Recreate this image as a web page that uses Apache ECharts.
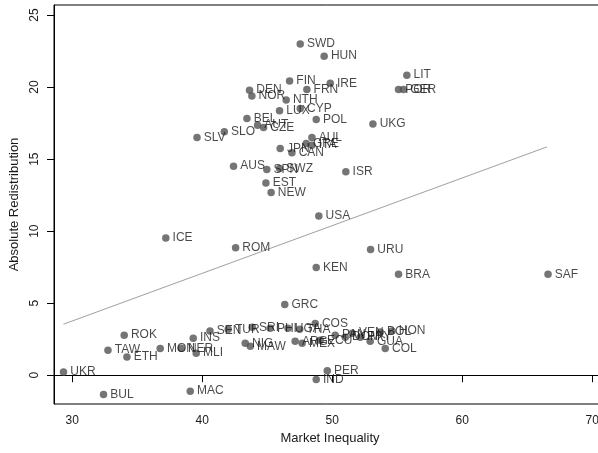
<!DOCTYPE html>
<html>
<head>
<meta charset="utf-8">
<script src="https://cdn.jsdelivr.net/npm/echarts@6/dist/echarts.min.js"></script>
<style>html,body{margin:0;padding:0;background:#fff;}#c{width:598px;height:453px;}</style>
</head>
<body>
<div id="c"></div>
<script>
// Country codes
const countries = ["SWD","HUN","FIN","FRN","IRE","LIT","POR","GER","DEN","NOR","NTH","LUX","CYP","POL","BEL","AUT","CZE","SLV","SLO","UKG","AUL","GRE","ITA","JPN","CAN","AUS","SPN","SWZ","EST","NEW","ISR",
  "USA","ICE","ROM","URU","KEN","BRA","SAF","GRC",
  "ROK","TAW","ETH","UKR","BUL","MAC","MON","NER","MLI","INS","SEN","TUR","SRI","NIG","MAW","PHI","UGA","THA","COS","ARG","MEX","ECU","PAN","DOM","VEN","PRY","GUA","BOL","HON","COL","PER","IND"];
// Market inequality (x)
const marketInequality = [47.54,49.38,46.72,48.05,49.85,55.74,55.10,55.48,43.64,43.82,46.46,45.95,47.54,48.77,43.44,44.26,44.72,39.60,41.70,53.13,48.44,48.00,48.44,46.00,46.90,42.41,44.97,45.95,44.90,45.30,51.05,
  48.97,37.20,42.57,52.95,48.77,55.10,66.60,46.35,
  34.00,32.75,34.21,29.33,32.41,39.08,36.77,38.38,39.54,39.31,40.60,42.00,43.85,43.31,43.70,45.23,46.60,47.50,48.69,47.15,47.69,49.08,50.23,51.00,51.54,52.15,52.92,53.70,54.60,54.08,49.62,48.77];
// Absolute redistribution (y)
const absoluteRedistribution = [22.99,22.15,20.42,19.84,20.26,20.83,19.84,19.84,19.79,19.38,19.10,18.36,18.52,17.75,17.82,17.36,17.20,16.50,16.90,17.43,16.50,16.09,15.97,15.74,15.44,14.51,14.28,14.35,13.35,12.69,14.12,
  11.06,9.53,8.84,8.73,7.48,7.01,7.01,4.91,
  2.78,1.74,1.27,0.23,-1.34,-1.11,1.85,1.87,1.53,2.57,3.06,3.19,3.33,2.22,2.01,3.26,3.26,3.19,3.59,2.36,2.22,2.43,2.78,2.64,2.92,2.64,2.36,3.00,3.06,1.85,0.31,-0.30];
// Fitted line end points
const fitX = [29.33, 66.52];
const fitY = [3.54, 15.85];
// Tick labels
const xTicks = [30, 40, 50, 60, 70];
const yTicks = [0, 5, 10, 15, 20, 25];

const chart = echarts.init(document.getElementById('c'), null, {renderer: 'canvas'});
const pts = countries.map((n, i) => ({name: n, value: [marketInequality[i], absoluteRedistribution[i]]}));
const fitLine = fitX.map((x, i) => [x, fitY[i]]);
const font = 'Liberation Sans, Arial, sans-serif';
chart.setOption({
  animation: false,
  backgroundColor: '#fff',
  grid: {left: 54, top: 5, right: -8, bottom: 49, show: true, borderColor: '#000', borderWidth: 1, containLabel: false, outerBoundsMode: 'none'},
  xAxis: {
    type: 'value', min: 28.6, max: 71.06,
    name: 'Market Inequality', nameLocation: 'middle', nameGap: 28,
    nameTextStyle: {fontFamily: font, fontSize: 13, color: '#1a1a1a'},
    axisLine: {show: true, lineStyle: {color: '#000', width: 1}},
    axisTick: {show: true, length: 7, lineStyle: {color: '#000'}, customValues: xTicks},
    axisLabel: {fontFamily: font, fontSize: 12, color: '#1a1a1a', margin: 11, customValues: xTicks},
    splitLine: {show: false}
  },
  yAxis: {
    type: 'value', min: -2.0, max: 25.7,
    name: 'Absolute Redistribution', nameLocation: 'middle', nameGap: 27,
    nameTextStyle: {fontFamily: font, fontSize: 13, color: '#1a1a1a'},
    axisLine: {show: true, lineStyle: {color: '#000', width: 1}},
    axisTick: {show: true, length: 7, lineStyle: {color: '#000'}, customValues: yTicks},
    axisLabel: {fontFamily: font, fontSize: 12, color: '#1a1a1a', margin: 13, rotate: 90, customValues: yTicks},
    splitLine: {show: false}
  },
  series: [
    {
      type: 'line', data: fitLine, symbol: 'none', silent: true,
      lineStyle: {color: '#a0a0a0', width: 1}, z: 1
    },
    {
      type: 'scatter', data: pts, symbol: 'circle', symbolSize: 7.5,
      itemStyle: {color: '#525252'}, z: 2,
      label: {show: true, position: 'right', distance: 3, formatter: '{b}',
        fontFamily: font, fontSize: 12, color: '#1a1a1a'}
    }
  ]
});
</script>
</body>
</html>
